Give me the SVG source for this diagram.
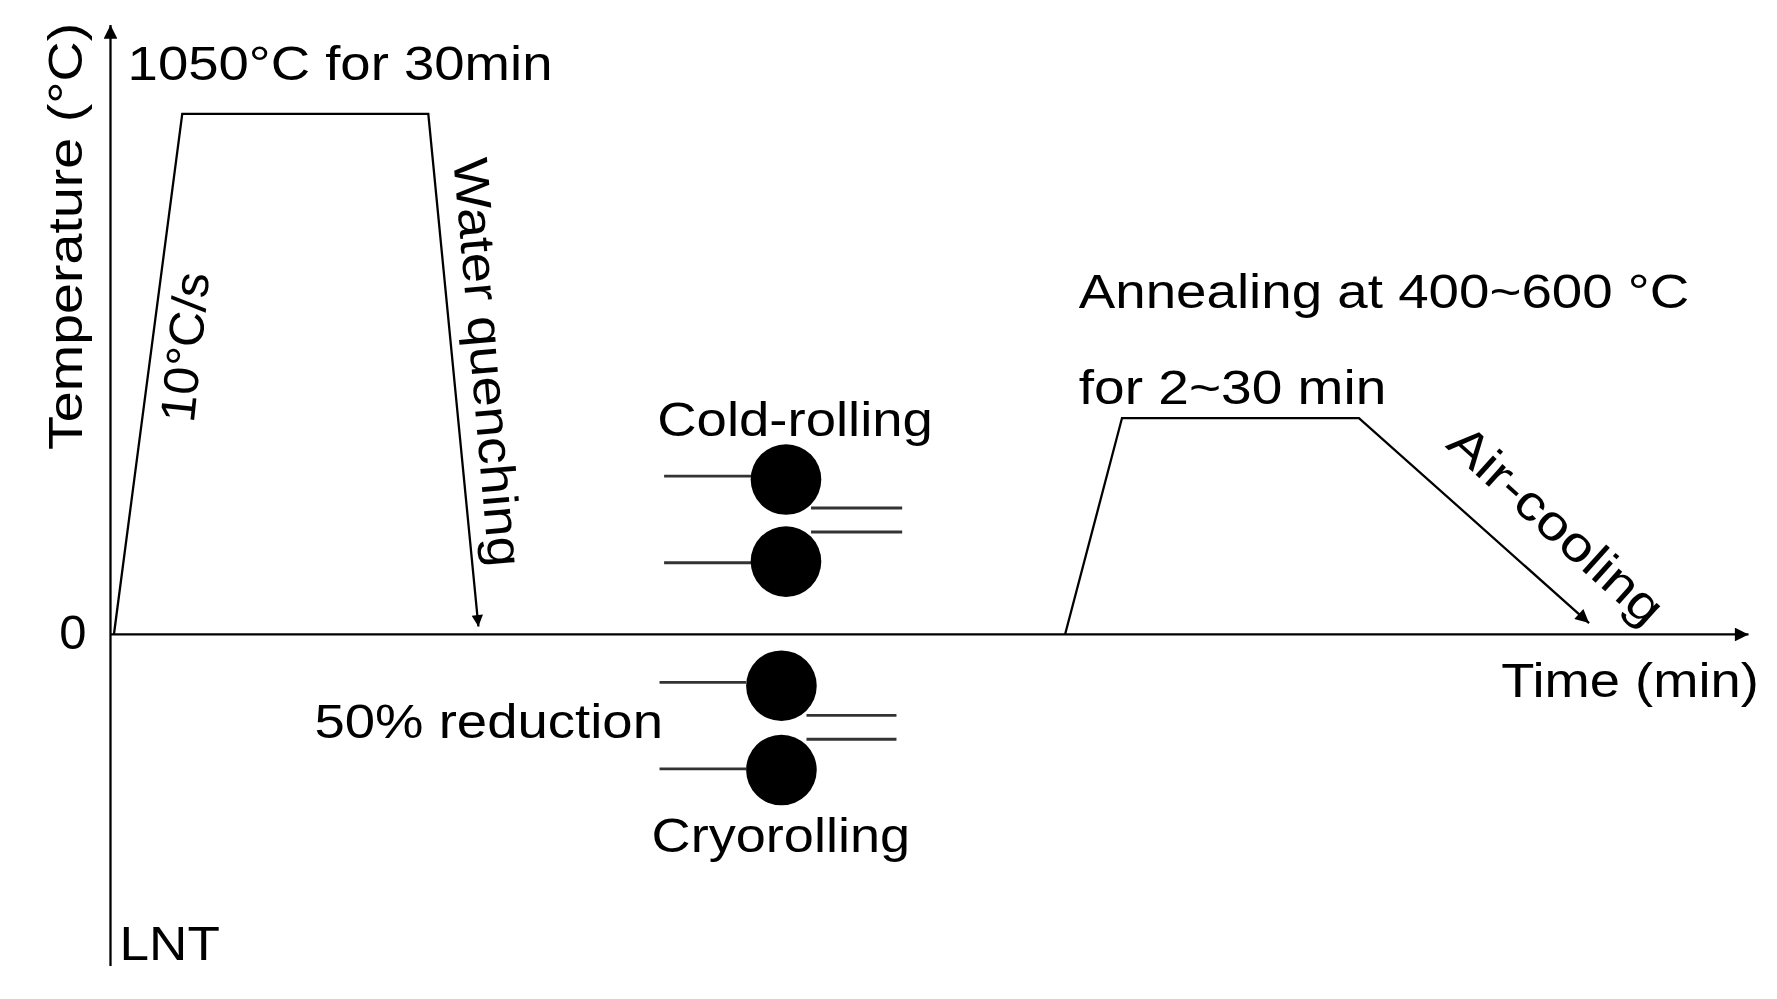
<svg xmlns="http://www.w3.org/2000/svg" width="1777" height="999" viewBox="0 0 1777 999">
<style>
text{font-family:"Liberation Sans",Arial,sans-serif;font-size:43px;fill:#000}
.l{stroke:#000;stroke-width:2;fill:none}
.r{stroke:#333;stroke-width:2.5}
</style>
<defs><marker id="a" viewBox="0 0 10 10" refX="10" refY="5" markerWidth="20" markerHeight="10" orient="auto" markerUnits="userSpaceOnUse"><path d="M0,0L10,5L0,10z" fill="#000"/></marker>
<marker id="b" viewBox="0 0 10 10" refX="10" refY="5" markerWidth="22" markerHeight="12" orient="auto" markerUnits="userSpaceOnUse"><path d="M0,0L10,5L0,10z" fill="#000"/></marker></defs>
<rect width="1777" height="999" fill="#fff"/>
<g transform="scale(1.1391)">
<g id="axes">
<line class="l" x1="97" y1="848" x2="97" y2="22" marker-end="url(#b)"/>
<line class="l" x1="97" y1="557" x2="1535" y2="557" marker-end="url(#b)"/>
<text x="52" y="570" font-size="38">0</text>
<text x="105" y="843" font-size="42" textLength="88" lengthAdjust="spacingAndGlyphs">LNT</text>
<text transform="translate(72,395) rotate(-90)" textLength="375" lengthAdjust="spacingAndGlyphs">Temperature (°C)</text>
<text x="1318" y="612" textLength="226" lengthAdjust="spacingAndGlyphs">Time (min)</text>
</g>
<g id="connectors">
<polyline class="l" points="100,557 160,100 376,100 420,550" marker-end="url(#a)"/>
<polyline class="l" points="935,557 985,367 1193,367 1395,547" marker-end="url(#b)"/>
</g>
<g id="labels">
<text x="112" y="70" textLength="373" lengthAdjust="spacingAndGlyphs">1050°C for 30min</text>
<text transform="translate(170,372) rotate(-84)" textLength="132" lengthAdjust="spacingAndGlyphs">10°C/s</text>
<text transform="translate(398,140) rotate(85)" textLength="360" lengthAdjust="spacingAndGlyphs">Water quenching</text>
<text x="947" y="270" textLength="536" lengthAdjust="spacingAndGlyphs">Annealing at 400~600 °C</text>
<text x="947" y="355" textLength="270" lengthAdjust="spacingAndGlyphs">for 2~30 min</text>
<text transform="translate(1268,392) rotate(42)" textLength="238" lengthAdjust="spacingAndGlyphs">Air-cooling</text>
<text x="276" y="648" textLength="306" lengthAdjust="spacingAndGlyphs">50% reduction</text>
</g>
<g id="cold-rolling">
<text x="577" y="383" textLength="242" lengthAdjust="spacingAndGlyphs">Cold-rolling</text>
<line class="r" x1="583" y1="418" x2="660" y2="418"/>
<line class="r" x1="712" y1="446" x2="792" y2="446"/>
<line class="r" x1="712" y1="467" x2="792" y2="467"/>
<line class="r" x1="583" y1="494" x2="660" y2="494"/>
<circle cx="690" cy="421" r="31"/>
<circle cx="690" cy="493" r="31"/>
</g>
<g id="cryorolling">
<text x="572" y="748" textLength="227" lengthAdjust="spacingAndGlyphs">Cryorolling</text>
<line class="r" x1="579" y1="599" x2="655" y2="599"/>
<line class="r" x1="708" y1="628" x2="787" y2="628"/>
<line class="r" x1="708" y1="649" x2="787" y2="649"/>
<line class="r" x1="579" y1="675" x2="655" y2="675"/>
<circle cx="686" cy="602" r="31"/>
<circle cx="686" cy="676" r="31"/>
</g>
</g>
</svg>
